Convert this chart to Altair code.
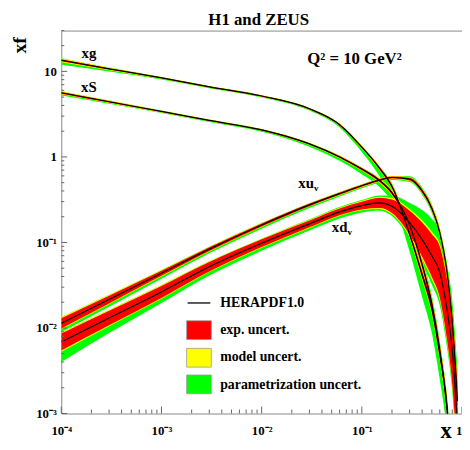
import altair as alt
import pandas as pd

# ---------------- data ----------------
X = [0.0001, 0.0003, 0.001, 0.003, 0.01, 0.03, 0.06, 0.1, 0.15, 0.2, 0.3, 0.4, 0.5, 0.6, 0.7, 0.8, 0.9]

# central values
XG_C = [13.5, 10.7, 8.4, 6.6, 5.15, 3.65, 2.38, 1.3, 0.74, 0.45, 0.125, 0.042, 0.017, 0.005, 0.0014, 0.0002, 0.00003]
XS_C = [5.62, 4.41, 3.40, 2.67, 2.07, 1.42, 1.0, 0.72, 0.53, 0.38, 0.16, 0.055, 0.019, 0.0055, 0.0013, 0.0002, 0.00003]
XUV_C = [0.01135, 0.0215, 0.0436, 0.0835, 0.16, 0.275, 0.372, 0.46, 0.536, 0.574, 0.55, 0.40, 0.25, 0.13, 0.05, 0.012, 0.0014]
XDV_C = [0.00686, 0.0131, 0.0264, 0.052, 0.098, 0.165, 0.228, 0.27, 0.29, 0.265, 0.17, 0.108, 0.07, 0.045, 0.018, 0.0055, 0.0008]

# uncertainties (in decades): exp (sym), model (sym), parametrisation up / down
XG_E = [0.012, 0.008, 0.006, 0.006, 0.006, 0.007, 0.008, 0.01, 0.015, 0.02, 0.03, 0.04, 0.05, 0.06, 0.07, 0.08, 0.09]
XG_M = [0.012, 0.008, 0.005, 0.004, 0.004, 0.004, 0.005, 0.006, 0.008, 0.01, 0.015, 0.02, 0.02, 0.02, 0.02, 0.02, 0.02]
XG_PU = [0, 0, 0, 0, 0, 0, 0, 0, 0, 0.01, 0.02, 0.03, 0.03, 0.03, 0.03, 0.03, 0.03]
XG_PD = [0.03, 0.015, 0.008, 0.006, 0.006, 0.01, 0.02, 0.04, 0.07, 0.1, 0.16, 0.2, 0.22, 0.22, 0.22, 0.22, 0.22]

XS_E = [0.01, 0.008, 0.006, 0.006, 0.006, 0.008, 0.01, 0.012, 0.015, 0.02, 0.03, 0.04, 0.05, 0.06, 0.07, 0.08, 0.09]
XS_M = [0.008, 0.006, 0.005, 0.004, 0.004, 0.005, 0.006, 0.008, 0.01, 0.01, 0.015, 0.02, 0.02, 0.02, 0.02, 0.02, 0.02]
XS_PU = [0, 0, 0, 0, 0, 0, 0, 0, 0, 0.01, 0.02, 0.03, 0.03, 0.03, 0.03, 0.03, 0.03]
XS_PD = [0.015, 0.01, 0.008, 0.008, 0.012, 0.02, 0.03, 0.04, 0.05, 0.07, 0.1, 0.14, 0.16, 0.16, 0.16, 0.16, 0.16]

XUV_E = [0.06, 0.045, 0.03, 0.022, 0.018, 0.015, 0.013, 0.012, 0.012, 0.012, 0.015, 0.02, 0.025, 0.03, 0.04, 0.05, 0.06]
XUV_M = [0.012, 0.01, 0.008, 0.006, 0.005, 0.005, 0.005, 0.005, 0.005, 0.006, 0.008, 0.01, 0.012, 0.015, 0.02, 0.025, 0.03]
XUV_PU = [0, 0, 0, 0, 0, 0, 0, 0, 0, 0, 0.01, 0.01, 0.01, 0.01, 0.01, 0.01, 0.01]
XUV_PD = [0.03, 0.03, 0.025, 0.02, 0.02, 0.018, 0.015, 0.012, 0.012, 0.012, 0.012, 0.015, 0.02, 0.025, 0.03, 0.04, 0.05]

XDV_E = [0.1, 0.085, 0.07, 0.055, 0.045, 0.04, 0.04, 0.045, 0.06, 0.08, 0.14, 0.2, 0.25, 0.3, 0.35, 0.4, 0.45]
XDV_M = [0.015, 0.012, 0.01, 0.008, 0.008, 0.008, 0.008, 0.01, 0.012, 0.015, 0.02, 0.025, 0.03, 0.03, 0.03, 0.03, 0.03]
XDV_PU = [0, 0, 0, 0, 0, 0.005, 0.008, 0.01, 0.015, 0.03, 0.07, 0.12, 0.15, 0.15, 0.15, 0.15, 0.15]
XDV_PD = [0.12, 0.08, 0.05, 0.04, 0.035, 0.03, 0.03, 0.025, 0.02, 0.02, 0.03, 0.05, 0.06, 0.06, 0.06, 0.06, 0.06]

X_TICKS = [0.0001, 0.001, 0.01, 0.1, 1]
X_LABELS = ["10⁻⁴", "10⁻³", "10⁻²", "10⁻¹", "1"]
Y_TICKS = [0.001, 0.01, 0.1, 1, 10]
Y_LABELS = ["10⁻³", "10⁻²", "10⁻¹", "1", "10"]
LEGEND_LABELS = ["HERAPDF1.0", "exp. uncert.", "model uncert.", "parametrization uncert."]
BAND_COLORS = ["#ff0000", "#ffff00", "#00ff00"]

# ---------------- build table ----------------
rows = []
for name, C, E, M, PU, PD in [
    ("xdv", XDV_C, XDV_E, XDV_M, XDV_PU, XDV_PD),
    ("xuv", XUV_C, XUV_E, XUV_M, XUV_PU, XUV_PD),
    ("xS", XS_C, XS_E, XS_M, XS_PU, XS_PD),
    ("xg", XG_C, XG_E, XG_M, XG_PU, XG_PD),
]:
    for x, c, e, m, pu, pdn in zip(X, C, E, M, PU, PD):
        rows.append(dict(
            curve=name, x=x, c=c,
            r_lo=c * 10 ** (-e), r_hi=c * 10 ** e,
            y_lo=c * 10 ** (-e - m), y_hi=c * 10 ** (e + m),
            g_lo=c * 10 ** (-e - m - pdn), g_hi=c * 10 ** (e + m + pu),
        ))
df = pd.DataFrame(rows)

W, H = 406, 388
FONT = "Liberation Serif"


def label_expr(vals, labels):
    expr = f"'{labels[-1]}'"
    for v, lab in reversed(list(zip(vals[:-1], labels[:-1]))):
        expr = f"datum.value < {v * 1.5} ? '{lab}' : ({expr})"
    return expr


xs = alt.Scale(type="log", domain=[1e-4, 1], nice=False)
ys = alt.Scale(type="log", domain=[1e-3, 30], nice=False)

x_axis = alt.Axis(values=X_TICKS, labelExpr=label_expr(X_TICKS, X_LABELS), ticks=False,
                  domain=False, grid=False, title=None, labelFont=FONT, labelFontWeight="bold",
                  labelFontSize=13, labelPadding=11, labelColor="black", labelFlush=False,
                  labelAlign={"condition": {"test": "datum.value >= 0.9", "value": "right"},
                              "value": "center"})
y_axis = alt.Axis(values=Y_TICKS, labelExpr=label_expr(Y_TICKS, Y_LABELS), ticks=False,
                  domain=False, grid=False, title=None, labelFont=FONT, labelFontWeight="bold",
                  labelFontSize=13, labelPadding=5, labelColor="black", labelFlush=False)

base = alt.Chart(df)


def band(lo, hi, color):
    return base.mark_area(color=color, clip=True, interpolate="monotone", opacity=1).encode(
        x=alt.X("x:Q", scale=xs, axis=x_axis),
        y=alt.Y(f"{lo}:Q", scale=ys, axis=y_axis),
        y2=f"{hi}:Q",
        detail="curve:N",
    )


green = band("g_lo", "g_hi", BAND_COLORS[2])
yellow = band("y_lo", "y_hi", BAND_COLORS[1])
red = band("r_lo", "r_hi", BAND_COLORS[0])
line = base.mark_line(color="black", strokeWidth=1.2, clip=True, interpolate="monotone").encode(
    x=alt.X("x:Q", scale=xs, axis=x_axis),
    y=alt.Y("c:Q", scale=ys, axis=y_axis),
    detail="curve:N",
)

# ---------------- inward ticks ----------------
y_minor = [k * 10 ** n for n in range(-3, 2) for k in range(2, 10) if k * 10 ** n <= 30]
x_minor = [k * 10 ** n for n in range(-4, 0) for k in range(2, 10)]
TICK_COLOR = "#666666"

ytm = alt.Chart(pd.DataFrame({"v": Y_TICKS})).mark_rule(color=TICK_COLOR).encode(
    y=alt.Y("v:Q", scale=ys, axis=y_axis), x=alt.value(0), x2=alt.value(6))
ytn = alt.Chart(pd.DataFrame({"v": y_minor})).mark_rule(color=TICK_COLOR).encode(
    y=alt.Y("v:Q", scale=ys, axis=y_axis), x=alt.value(0), x2=alt.value(3))
xtm = alt.Chart(pd.DataFrame({"v": X_TICKS})).mark_rule(color=TICK_COLOR).encode(
    x=alt.X("v:Q", scale=xs, axis=x_axis), y=alt.value(H), y2=alt.value(H - 7))
xtn = alt.Chart(pd.DataFrame({"v": x_minor})).mark_rule(color=TICK_COLOR).encode(
    x=alt.X("v:Q", scale=xs, axis=x_axis), y=alt.value(H), y2=alt.value(H - 4))


# ---------------- texts ----------------
def txt(s, x, y, size=13, align="center", baseline="middle", angle=0):
    kw = dict(font=FONT, fontWeight="bold", fontSize=size, align=align, baseline=baseline, color="black")
    if angle:
        kw["angle"] = angle
    return alt.Chart(pd.DataFrame({"t": [s]})).mark_text(**kw).encode(
        text="t:N", x=alt.value(x), y=alt.value(y))


texts = [
    txt("H1 and ZEUS", 200, -11, 17),
    txt("Q² = 10 GeV²", 297, 29, 17),
    txt("xf", -42, 15, 20, angle=270),
    txt("x", 390, 413, 23, baseline="alphabetic"),
    txt("xg", 28, 23, 15),
    txt("xS", 28, 57, 15),
    txt("xu", 256, 155, 15, align="right"),
    txt("v", 256, 160, 9, align="left"),
    txt("xd", 290, 199, 15, align="right"),
    txt("v", 290, 204, 9, align="left"),
]

# ---------------- legend ----------------
leg_line = alt.Chart(pd.DataFrame({"a": [0]})).mark_rule(color="black", strokeWidth=1.3).encode(
    x=alt.value(128), x2=alt.value(151), y=alt.value(276))
leg_boxes = []
for i, (yy, col) in enumerate([(294, BAND_COLORS[0]), (322, BAND_COLORS[1]), (349, BAND_COLORS[2])]):
    leg_boxes.append(alt.Chart(pd.DataFrame({"a": [i]})).mark_rect(
        color=col, stroke="#999999", strokeWidth=0.8).encode(
        x=alt.value(127), x2=alt.value(152), y=alt.value(yy), y2=alt.value(yy + 19)))
leg_texts = [txt(lab, 161, yy, 14, align="left") for lab, yy in zip(LEGEND_LABELS, [276, 303, 331, 359])]

chart = alt.layer(
    green, yellow, red, line, ytm, ytn, xtm, xtn, *texts, leg_line, *leg_boxes, *leg_texts
).properties(
    width=W, height=H,
    autosize=alt.AutoSizeParams(type="none"),
    padding={"left": 54, "top": 20, "right": 0, "bottom": 26},
).configure_view(stroke="#888888", strokeWidth=1)

chart.save("out.html", embed_options={"renderer": "svg", "actions": False})
